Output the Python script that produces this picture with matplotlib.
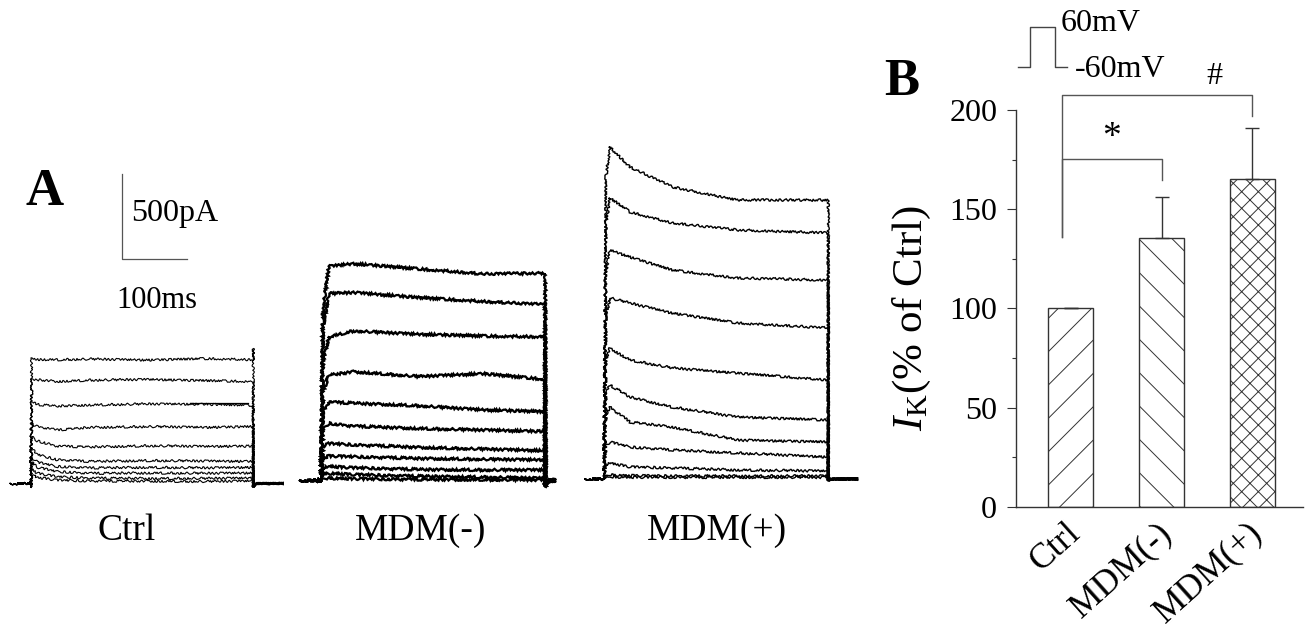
import numpy as np
import matplotlib
matplotlib.use('Agg')
import matplotlib.pyplot as plt
from matplotlib.transforms import ScaledTranslation

plt.rcParams['font.family'] = ['Liberation Serif', 'DejaVu Serif']
plt.rcParams['mathtext.fontset'] = 'custom'
plt.rcParams['mathtext.rm'] = 'Liberation Serif'
plt.rcParams['mathtext.it'] = 'Liberation Serif:italic'
plt.rcParams['hatch.linewidth'] = 0.7
plt.rcParams['hatch.color'] = '#333333'

# ------------------------------------------------------------------ data
# Panel A: current traces (pA) read at a few time points (ms) of the step
group_names = ['Ctrl', 'MDM(-)', 'MDM(+)']
pulse_ms = [342, 345, 345]
pre_ms = [32, 32, 29]
post_ms = [46, 15, 45]
tail_pA = [-20, -35, -10]
onset_dip_pA = [-25, -10, -5]

ctrl_t = [1, 10, 40, 90, 180, 270, 342]
ctrl_traces = [
    [740, 730, 728, 732, 726, 735, 728],
    [615, 610, 600, 608, 612, 605, 600],
    [480, 465, 455, 462, 468, 466, 460],
    [350, 335, 315, 330, 335, 330, 335],
    [275, 250, 220, 215, 222, 218, 220],
    [205, 170, 140, 130, 135, 132, 130],
    [155, 125, 100, 92, 95, 92, 95],
    [125, 95, 70, 60, 62, 60, 62],
    [85, 60, 40, 32, 30, 30, 32],
    [55, 35, 20, 15, 14, 12, 15],
]
ctrl_end_spike_pA = 795
ctrl_marker_t = [245, 334]
ctrl_marker_pA = 473

mdm_neg_t = [3, 12, 50, 150, 250, 345]
mdm_neg_traces = [
    [1000, 1260, 1275, 1245, 1215, 1220],
    [900, 1100, 1106, 1076, 1053, 1035],
    [700, 845, 880, 860, 850, 845],
    [520, 620, 640, 612, 628, 595],
    [400, 462, 455, 440, 415, 405],
    [300, 336, 320, 306, 297, 288],
    [200, 218, 210, 195, 185, 175],
    [130, 144, 140, 130, 125, 121],
    [75, 82, 75, 65, 62, 62],
    [38, 41, 35, 25, 20, 13],
    [12, 13, 10, 6, 5, 3],
]

mdm_pos_t = [3, 9, 40, 105, 205, 345]
mdm_pos_traces = [
    [1780, 1953, 1835, 1718, 1641, 1641],
    [1500, 1653, 1571, 1506, 1465, 1447],
    [1220, 1347, 1306, 1229, 1182, 1170],
    [960, 1065, 1035, 976, 918, 888],
    [700, 770, 700, 653, 623, 582],
    [500, 553, 482, 423, 365, 347],
    [380, 423, 335, 306, 229, 218],
    [195, 218, 188, 171, 153, 129],
    [85, 94, 71, 65, 53, 47],
    [22, 24, 20, 18, 18, 18],
    [11, 12, 10, 10, 10, 10],
]

scale_pA = 500
scale_ms = 100

# Panel B: bar chart
categories = ['Ctrl', 'MDM(-)', 'MDM(+)']
means = [100, 135.4, 165.3]
sems = [0, 20.6, 25.7]
hatches = ['/', '\\', 'xx']
y_ticks = [0, 50, 100, 150, 200]
sig_pairs = [(0, 1), (0, 2)]
sig_top = [175.4, 207.5]
sig_end = [164.6, 197]
sig_start = 135.8
sig_labels = ['*', '#']

protocol_t = [0, 1, 1, 3, 3, 4]
protocol_mV = [-60, -60, 60, 60, -60, -60]

# ------------------------------------------------------------------ layout helpers
W, H = 1315, 628
fig = plt.figure(figsize=(W / 100, H / 100), dpi=100)
fig.patch.set_facecolor('white')


def fx(px):
    return px / W


def fy(py):
    return 1 - py / H


MS_PER_PX = 100 / 65
PA_PER_PX = 500 / 85

group_start_px = [31, 321, 604]
group_base_px = [483.5, 480.5, 479]
group_lw = [0.8, 1.6, 1.0]
group_t = [ctrl_t, mdm_neg_t, mdm_pos_t]
group_traces = [ctrl_traces, mdm_neg_traces, mdm_pos_traces]

axesA = []
for g in range(3):
    sx, by = group_start_px[g], group_base_px[g]
    x0, x1, y0, y1 = sx - 31, sx + 270, 100, 500
    ax = fig.add_axes([fx(x0), fy(y1), (x1 - x0) / W, (y1 - y0) / H])
    ax.set_xlim((x0 - sx) * MS_PER_PX, (x1 - sx) * MS_PER_PX)
    ax.set_ylim((by - y1) * PA_PER_PX, (by - y0) * PA_PER_PX)
    ax.axis('off')
    axesA.append(ax)
    T = pulse_ms[g]
    tp = group_t[g]
    for k, tr in enumerate(group_traces[g]):
        xs = [-pre_ms[g], 0, 0, 0] + list(tp)
        ys = [0, 0, onset_dip_pA[g], 0] + list(tr)
        if g == 0 and k == 0:
            xs += [T, T]
            ys += [ctrl_end_spike_pA, tail_pA[g]]
        else:
            xs += [T]
            ys += [tail_pA[g]]
        xs += [T + 4, T + post_ms[g]]
        ys += [0, 0]
        ln, = ax.plot(xs, ys, color='black', lw=group_lw[g],
                      solid_joinstyle='miter', clip_on=False)
        ln.set_sketch_params(scale=1.2, length=2.5, randomness=5)

# Ctrl marker line
axesA[0].plot(ctrl_marker_t, [ctrl_marker_pA] * 2, color='black', lw=0.9)

# scale bar in Ctrl axes
sb_t = (122 - group_start_px[0]) * MS_PER_PX
sb_y = (group_base_px[0] - 259) * PA_PER_PX
axesA[0].plot([sb_t, sb_t, sb_t + scale_ms], [sb_y + scale_pA, sb_y, sb_y],
              color='#555555', lw=0.9, clip_on=False)

fig.text(fx(131), fy(221), f'{scale_pA}pA', fontsize=23, va='baseline', ha='left')
fig.text(fx(116), fy(308), f'{scale_ms}ms', fontsize=22, va='baseline', ha='left')
fig.text(fx(26), fy(205), 'A', fontsize=38, fontweight='bold', va='baseline', ha='left')

label_left_px = [98, 355, 647]
for g in range(3):
    fig.text(fx(label_left_px[g]), fy(540), group_names[g], fontsize=27,
             va='baseline', ha='left')

# ------------------------------------------------------------------ panel B
axB = fig.add_axes([fx(1016), fy(506.7), 287 / W, 396.7 / H])
x = np.arange(len(categories))
bars = axB.bar(x, means, width=0.495, color='white', edgecolor='#333333',
               linewidth=1.0, zorder=2)
for b, h in zip(bars, hatches):
    b.set_hatch(h)
axB.errorbar(x, means, yerr=[np.zeros(len(sems)), sems], fmt='none',
             ecolor='#333333', elinewidth=1.0, capsize=5, capthick=1.0, zorder=3)
axB.set_xlim(-0.599, 2.555)
axB.set_ylim(0, 200)
axB.set_yticks(y_ticks)
axB.set_yticks([25, 75, 125, 175], minor=True)
axB.tick_params(axis='y', which='major', direction='out', length=6.5, width=0.8,
                labelsize=23, pad=7, color='#333333')
axB.tick_params(axis='y', which='minor', direction='out', length=3.2, width=0.8,
                color='#333333')
axB.set_xticks(x)
axB.set_xticklabels(categories, rotation=42, ha='right', va='center',
                    rotation_mode='anchor', fontsize=25.5)
axB.tick_params(axis='x', length=0, pad=16)
for lbl in axB.get_xticklabels():
    lbl.set_transform(lbl.get_transform() + ScaledTranslation(0.05, 0, fig.dpi_scale_trans))
for s in ['top', 'right']:
    axB.spines[s].set_visible(False)
for s in ['left', 'bottom']:
    axB.spines[s].set_linewidth(1.0)
    axB.spines[s].set_color('#333333')
axB.set_ylabel(r'$\mathit{I}_{\mathrm{K}}$(% of Ctrl)', fontsize=31)
axB.yaxis.set_label_coords(-0.29, 0.476)

# significance brackets
x_left = -0.093
for (a, b), top, end, lab in zip(sig_pairs, sig_top, sig_end, sig_labels):
    axB.plot([x_left, x_left, b, b], [sig_start, top, top, end], color='#555555',
             lw=1.0, clip_on=False)
axB.text(0.456, 186, sig_labels[0], fontsize=27, ha='center', va='center')
axB.text(1.58, 217, sig_labels[1], fontsize=23, ha='center', va='center')

# voltage protocol icon
axP = fig.add_axes([fx(1018), fy(67), 49 / W, 40 / H])
axP.plot(protocol_t, protocol_mV, color='#444444', lw=1.0, clip_on=False)
axP.set_xlim(0, 4)
axP.set_ylim(-60, 60)
axP.axis('off')
fig.text(fx(1061), fy(31), '60mV', fontsize=23, va='baseline', ha='left')
fig.text(fx(1075), fy(77), '-60mV', fontsize=23, va='baseline', ha='left')
fig.text(fx(884), fy(95), 'B', fontsize=38, fontweight='bold', va='baseline', ha='left')

fig.savefig('out.png', dpi=100, facecolor='white')
